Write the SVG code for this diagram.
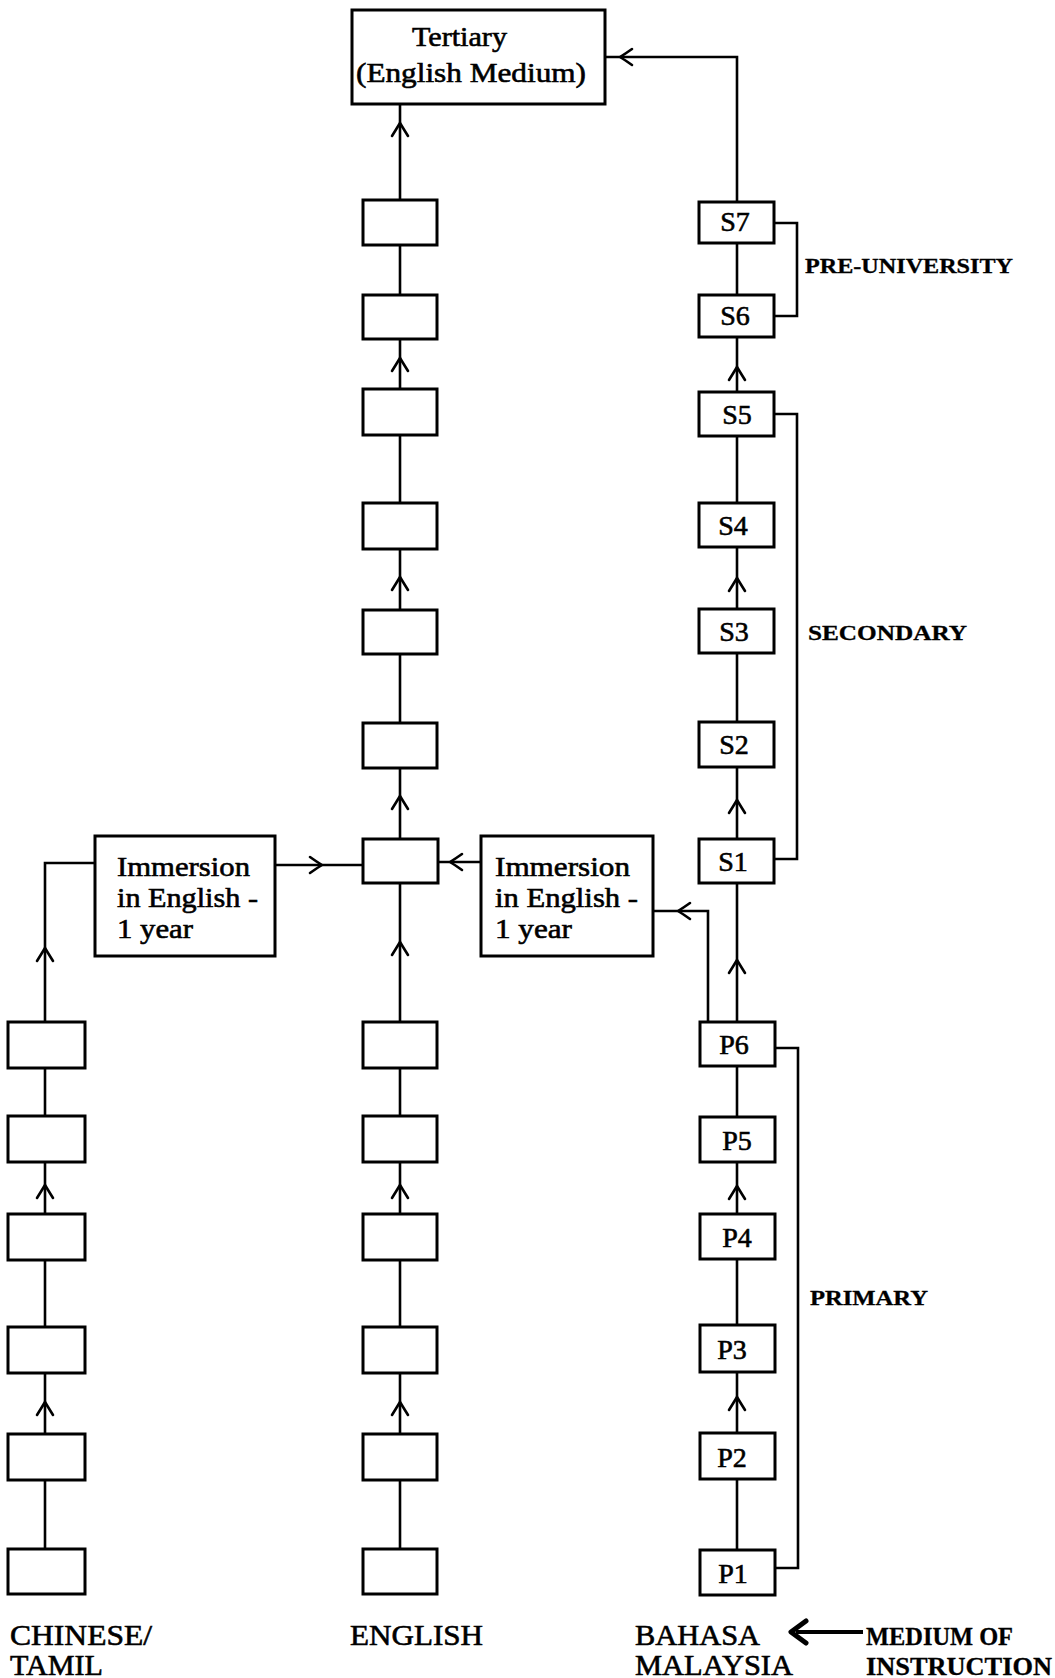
<svg xmlns="http://www.w3.org/2000/svg" xmlns:xlink="http://www.w3.org/1999/xlink" width="1055" height="1678" viewBox="0 0 1055 1678">
  <style>
    .box { fill: #fff; stroke: #000; stroke-width: 3; }
    .ln { fill: none; stroke: #000; stroke-width: 2.6; }
    .chev { fill: none; stroke: #000; stroke-width: 2.6; stroke-linecap: round; stroke-linejoin: round; }
    text { font-family: "Liberation Serif", "Times New Roman", serif; fill: #000; stroke: #000; stroke-width: 0.6; }
    .lbl { font-size: 28px; text-anchor: middle; }
    .body { font-size: 28px; }
    .stage { font-size: 21px; font-weight: bold; stroke-width: 0.3; }
    .medium { font-size: 29px; }
    .note { font-size: 26px; font-weight: bold; stroke-width: 0.3; }
  </style>
  <defs>
    <!-- open chevron pointing up, tip at origin -->
    <path id="up" class="chev" d="M-8,13 Q-3,5 0,0 Q3,5 8,13"/>
  </defs>
  <rect width="1055" height="1678" fill="#fff"/>

  <!-- connectors -->
  <g id="connectors">
    <!-- English-medium column -->
    <path class="ln" d="M400,200 V104"/>
    <path class="ln" d="M400,295 V245"/>
    <path class="ln" d="M400,389 V339"/>
    <path class="ln" d="M400,503 V435"/>
    <path class="ln" d="M400,610 V549"/>
    <path class="ln" d="M400,723 V654"/>
    <path class="ln" d="M400,839 V768"/>
    <path class="ln" d="M400,1022 V883"/>
    <path class="ln" d="M400,1116 V1068"/>
    <path class="ln" d="M400,1214 V1162"/>
    <path class="ln" d="M400,1327 V1260"/>
    <path class="ln" d="M400,1434 V1373"/>
    <path class="ln" d="M400,1549 V1480"/>
    <!-- Bahasa Malaysia column -->
    <path class="ln" d="M737,202 V57 H605"/>
    <path class="ln" d="M737,295 V243"/>
    <path class="ln" d="M737,392 V337"/>
    <path class="ln" d="M737,503 V436"/>
    <path class="ln" d="M737,609 V547"/>
    <path class="ln" d="M737,722 V653"/>
    <path class="ln" d="M737,839 V767"/>
    <path class="ln" d="M737,1022 V883"/>
    <path class="ln" d="M737,1117 V1066"/>
    <path class="ln" d="M737,1214 V1162"/>
    <path class="ln" d="M737,1325 V1259"/>
    <path class="ln" d="M737,1433 V1372"/>
    <path class="ln" d="M737,1550 V1479"/>
    <!-- branch from P6 to immersion year -->
    <path class="ln" d="M708,1022 V911 H653"/>
    <path class="ln" d="M481,862 H437"/>
    <!-- Chinese/Tamil column -->
    <path class="ln" d="M45,1022 V863 H95"/>
    <path class="ln" d="M275,865 H363"/>
    <path class="ln" d="M45,1116 V1068"/>
    <path class="ln" d="M45,1214 V1162"/>
    <path class="ln" d="M45,1327 V1260"/>
    <path class="ln" d="M45,1434 V1373"/>
    <path class="ln" d="M45,1549 V1480"/>

    <!-- stage brackets -->
    <path class="ln" d="M774,223 H797 V316 H774"/>
    <path class="ln" d="M774,414 H797 V859 H774"/>
    <path class="ln" d="M775,1048 H798 V1568 H775"/>

    <!-- arrowheads -->
    <use xlink:href="#up" x="400" y="123"/>
    <use xlink:href="#up" x="400" y="358"/>
    <use xlink:href="#up" x="400" y="577"/>
    <use xlink:href="#up" x="400" y="796"/>
    <use xlink:href="#up" x="400" y="942"/>
    <use xlink:href="#up" x="400" y="1185"/>
    <use xlink:href="#up" x="400" y="1402"/>

    <use xlink:href="#up" x="737" y="367"/>
    <use xlink:href="#up" x="737" y="578"/>
    <use xlink:href="#up" x="737" y="800"/>
    <use xlink:href="#up" x="737" y="960"/>
    <use xlink:href="#up" x="737" y="1186"/>
    <use xlink:href="#up" x="737" y="1397"/>

    <use xlink:href="#up" x="45" y="948"/>
    <use xlink:href="#up" x="45" y="1185"/>
    <use xlink:href="#up" x="45" y="1402"/>

    <path class="chev" d="M632,49 Q625,54 620,57 Q625,60 632,65"/>
    <path class="chev" d="M462,854 Q455,859 450,862 Q455,865 462,870"/>
    <path class="chev" d="M690,903 Q683,908 678,911 Q683,914 690,919"/>
    <path class="chev" d="M310,857 Q317,862 322,865 Q317,868 310,873"/>

    <!-- medium-of-instruction pointer -->
    <path class="ln" d="M863,1632 H796" style="stroke-width:4"/>
    <path class="chev" d="M806,1621 L791,1632 L806,1643" style="stroke-width:5"/>
  </g>

  <!-- tertiary -->
  <g id="tertiary">
    <rect class="box" x="352" y="10" width="253" height="94"/>
    <text class="body" x="412" y="46" textLength="95" lengthAdjust="spacingAndGlyphs">Tertiary</text>
    <text class="body" x="356" y="82" textLength="230" lengthAdjust="spacingAndGlyphs">(English Medium)</text>
  </g>

  <!-- English-medium column -->
  <g id="e1"><rect class="box" x="363" y="200" width="74" height="45"/></g>
  <g id="e2"><rect class="box" x="363" y="295" width="74" height="44"/></g>
  <g id="e3"><rect class="box" x="363" y="389" width="74" height="46"/></g>
  <g id="e4"><rect class="box" x="363" y="503" width="74" height="46"/></g>
  <g id="e5"><rect class="box" x="363" y="610" width="74" height="44"/></g>
  <g id="e6"><rect class="box" x="363" y="723" width="74" height="45"/></g>
  <g id="e-join"><rect class="box" x="363" y="839" width="75" height="44"/></g>
  <g id="e7"><rect class="box" x="363" y="1022" width="74" height="46"/></g>
  <g id="e8"><rect class="box" x="363" y="1116" width="74" height="46"/></g>
  <g id="e9"><rect class="box" x="363" y="1214" width="74" height="46"/></g>
  <g id="e10"><rect class="box" x="363" y="1327" width="74" height="46"/></g>
  <g id="e11"><rect class="box" x="363" y="1434" width="74" height="46"/></g>
  <g id="e12"><rect class="box" x="363" y="1549" width="74" height="45"/></g>

  <!-- Chinese/Tamil column -->
  <g id="c1"><rect class="box" x="8" y="1022" width="77" height="46"/></g>
  <g id="c2"><rect class="box" x="8" y="1116" width="77" height="46"/></g>
  <g id="c3"><rect class="box" x="8" y="1214" width="77" height="46"/></g>
  <g id="c4"><rect class="box" x="8" y="1327" width="77" height="46"/></g>
  <g id="c5"><rect class="box" x="8" y="1434" width="77" height="46"/></g>
  <g id="c6"><rect class="box" x="8" y="1549" width="77" height="45"/></g>

  <!-- immersion years -->
  <g id="immersion-left">
    <rect class="box" x="95" y="836" width="180" height="120"/>
    <text class="body" x="117" y="876" textLength="133" lengthAdjust="spacingAndGlyphs">Immersion</text>
    <text class="body" x="117" y="907" textLength="141" lengthAdjust="spacingAndGlyphs">in English -</text>
    <text class="body" x="117" y="938" textLength="76" lengthAdjust="spacingAndGlyphs">1 year</text>
  </g>
  <g id="immersion-right">
    <rect class="box" x="481" y="836" width="172" height="120"/>
    <text class="body" x="495" y="876" textLength="135" lengthAdjust="spacingAndGlyphs">Immersion</text>
    <text class="body" x="495" y="907" textLength="143" lengthAdjust="spacingAndGlyphs">in English -</text>
    <text class="body" x="495" y="938" textLength="77" lengthAdjust="spacingAndGlyphs">1 year</text>
  </g>

  <!-- Bahasa Malaysia column -->
  <g id="s7"><rect class="box" x="699" y="202" width="75" height="41"/><text class="lbl" x="735" y="231">S7</text></g>
  <g id="s6"><rect class="box" x="699" y="295" width="75" height="42"/><text class="lbl" x="735" y="325">S6</text></g>
  <g id="s5"><rect class="box" x="699" y="392" width="75" height="44"/><text class="lbl" x="737" y="424">S5</text></g>
  <g id="s4"><rect class="box" x="699" y="503" width="75" height="44"/><text class="lbl" x="733" y="535">S4</text></g>
  <g id="s3"><rect class="box" x="699" y="609" width="75" height="44"/><text class="lbl" x="734" y="641">S3</text></g>
  <g id="s2"><rect class="box" x="699" y="722" width="75" height="45"/><text class="lbl" x="734" y="754">S2</text></g>
  <g id="s1"><rect class="box" x="699" y="839" width="75" height="44"/><text class="lbl" x="733" y="871">S1</text></g>
  <g id="p6"><rect class="box" x="700" y="1022" width="75" height="44"/><text class="lbl" x="734" y="1054">P6</text></g>
  <g id="p5"><rect class="box" x="700" y="1117" width="75" height="45"/><text class="lbl" x="737" y="1150">P5</text></g>
  <g id="p4"><rect class="box" x="700" y="1214" width="75" height="45"/><text class="lbl" x="737" y="1247">P4</text></g>
  <g id="p3"><rect class="box" x="700" y="1325" width="75" height="47"/><text class="lbl" x="732" y="1359">P3</text></g>
  <g id="p2"><rect class="box" x="700" y="1433" width="75" height="46"/><text class="lbl" x="732" y="1467">P2</text></g>
  <g id="p1"><rect class="box" x="700" y="1550" width="75" height="45"/><text class="lbl" x="733" y="1583">P1</text></g>

  <!-- stage names -->
  <g id="stage-labels">
    <text class="stage" x="805" y="273" textLength="208" lengthAdjust="spacingAndGlyphs">PRE-UNIVERSITY</text>
    <text class="stage" x="808" y="640" textLength="159" lengthAdjust="spacingAndGlyphs">SECONDARY</text>
    <text class="stage" x="810" y="1305" textLength="118" lengthAdjust="spacingAndGlyphs">PRIMARY</text>
  </g>

  <!-- media of instruction -->
  <g id="media-labels">
    <text class="medium" x="10" y="1645" textLength="142" lengthAdjust="spacingAndGlyphs">CHINESE/</text>
    <text class="medium" x="10" y="1675" textLength="93" lengthAdjust="spacingAndGlyphs">TAMIL</text>
    <text class="medium" x="350" y="1645" textLength="133" lengthAdjust="spacingAndGlyphs">ENGLISH</text>
    <text class="medium" x="635" y="1645" textLength="125" lengthAdjust="spacingAndGlyphs">BAHASA</text>
    <text class="medium" x="635" y="1675" textLength="158" lengthAdjust="spacingAndGlyphs">MALAYSIA</text>
    <text class="note" x="866" y="1645" textLength="147" lengthAdjust="spacingAndGlyphs">MEDIUM OF</text>
    <text class="note" x="866" y="1675" textLength="186" lengthAdjust="spacingAndGlyphs">INSTRUCTION</text>
  </g>
</svg>
